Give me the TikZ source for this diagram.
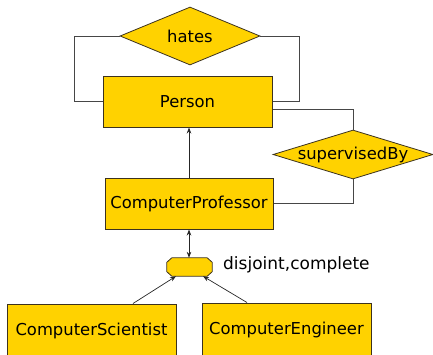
\documentclass[tikz,border=0pt]{standalone}
\usepackage{fontspec}
\setmainfont{DejaVu Sans}
\usetikzlibrary{shapes.geometric,arrows.meta}
\definecolor{gold}{RGB}{255,210,0}
\definecolor{edge}{RGB}{60,50,30}
\definecolor{wire}{RGB}{70,70,70}
\begin{document}
\begin{tikzpicture}[x=1pt,y=-1pt,
  every node/.style={font=\fontsize{16.4}{18}\selectfont},
  entity/.style={draw=edge,fill=gold,line width=1pt,minimum width=169pt,minimum height=51pt,inner sep=0pt},
  rel/.style={diamond,draw=edge,fill=gold,line width=0.8pt,inner sep=0pt},
  isabox/.style={draw=none,minimum width=45pt,minimum height=18pt,inner sep=0pt},
  isashape/.style={draw=edge,fill=gold,line width=0.8pt},
  wireline/.style={draw=wire,line width=0.8pt},
  arr/.style={draw=black!85,line width=0.7pt,-{Stealth[length=6pt,width=4.5pt]}},
  darr/.style={draw=black!85,line width=0.7pt,{Stealth[length=6pt,width=4.5pt]}-{Stealth[length=6pt,width=4.5pt]}}
]
\useasboundingbox (0,0) rectangle (433,354);
\node[entity] (person) at (187.5,101.5) {Person};
\node[entity,minimum width=168pt] (cp) at (189,203.5) {ComputerProfessor};
\node[entity,minimum height=53pt] (cs) at (91.5,330.5) {ComputerScientist};
\node[entity,minimum height=53pt] (ce) at (286.5,329.5) {ComputerEngineer};
\node[rel,minimum width=140pt,minimum height=58pt] (hates) at (190,36) {\makebox[0pt]{hates}};
\node[rel,minimum width=160pt,minimum height=49pt] (sup) at (353,154.5) {\makebox[0pt]{supervisedBy}};
\node[isabox] (oct) at (189.5,267) {};
\path[isashape] ([xshift=5pt]oct.north west) -- ([xshift=-5pt]oct.north east)
  -- ([yshift=-4.5pt]oct.north east) -- ([yshift=4.5pt]oct.south east)
  -- ([xshift=-5pt]oct.south east) -- ([xshift=5pt]oct.south west)
  -- ([yshift=4.5pt]oct.south west) -- ([yshift=-4.5pt]oct.north west) -- cycle;
\node[anchor=west,inner sep=0pt,font=\fontsize{17}{19}\selectfont] (lbl) at (223,265) {disjoint,complete};

\draw[wireline] (hates.west) -- ++(-45,0) |- (person.west);
\draw[wireline] (hates.east) -- ++(39,0) |- (person.east);
\draw[wireline] ([yshift=-7.5pt]person.east) -| (sup.north);
\draw[wireline] (sup.south) |- (cp.east);

\draw[arr] (cp.north) -- (cp.north |- person.south);
\draw[darr] (cp.south) -- (cp.south |- oct.north);
\draw[arr] ([xshift=41.5pt]cs.north) -- ([xshift=-13.5pt]oct.south);
\draw[arr] ([xshift=-39.5pt]ce.north) -- ([xshift=13.5pt]oct.south);
\end{tikzpicture}
\end{document}
